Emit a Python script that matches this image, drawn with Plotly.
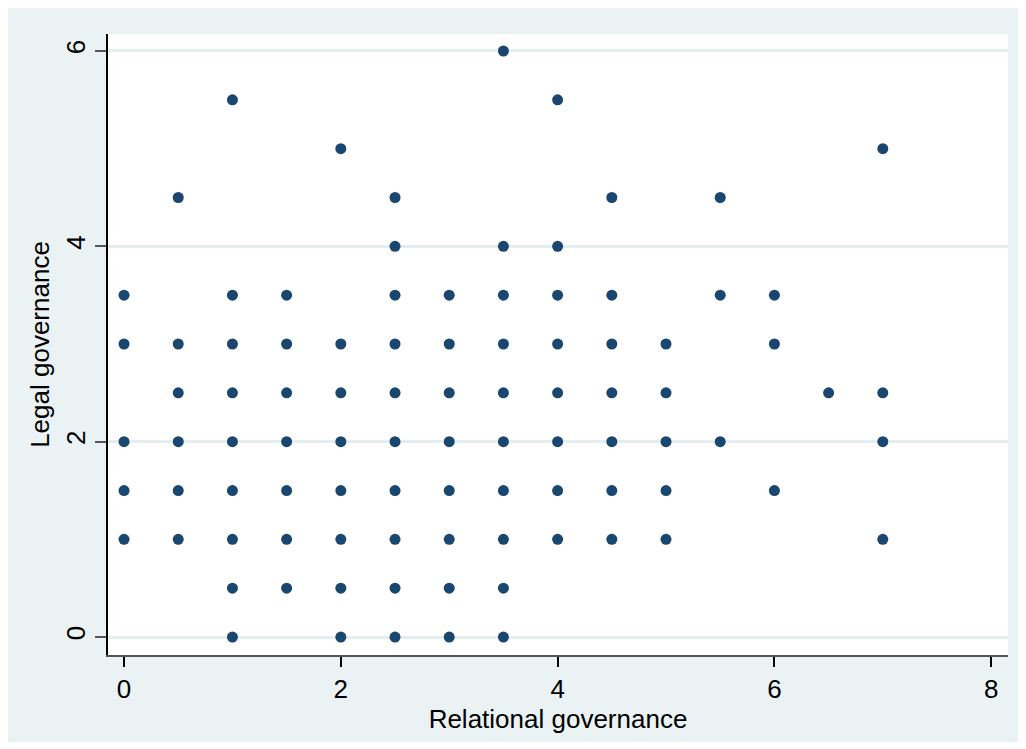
import plotly.graph_objects as go

x_levels = [0, 0.5, 1, 1.5, 2, 2.5, 3, 3.5, 4, 4.5, 5, 5.5, 6, 6.5, 7]
y_by_x = [
    [1, 1.5, 2, 3, 3.5],
    [1, 1.5, 2, 2.5, 3, 4.5],
    [0, 0.5, 1, 1.5, 2, 2.5, 3, 3.5, 5.5],
    [0.5, 1, 1.5, 2, 2.5, 3, 3.5],
    [0, 0.5, 1, 1.5, 2, 2.5, 3, 5],
    [0, 0.5, 1, 1.5, 2, 2.5, 3, 3.5, 4, 4.5],
    [0, 0.5, 1, 1.5, 2, 2.5, 3, 3.5],
    [0, 0.5, 1, 1.5, 2, 2.5, 3, 3.5, 4, 6],
    [1, 1.5, 2, 2.5, 3, 3.5, 4, 5.5],
    [1, 1.5, 2, 2.5, 3, 3.5, 4.5],
    [1, 1.5, 2, 2.5, 3],
    [2, 3.5, 4.5],
    [1.5, 3, 3.5],
    [2.5],
    [1, 2, 2.5, 5],
]
x_ticks = [0, 2, 4, 6, 8]
y_ticks = [0, 2, 4, 6]
x_title = "Relational governance"
y_title = "Legal governance"

xs, ys = [], []
for xv, yl in zip(x_levels, y_by_x):
    for yv in yl:
        xs.append(xv)
        ys.append(yv)

# page body has an 8px margin; the light-blue frame spans about (6,7)-(1019,742)
OFF = 8
W, H = 1019 - OFF, 742 - OFF
L, T = 108 - OFF, 34 - OFF
R, B = 1019 - 1008, 742 - 655

bg = "#EAF2F3"
font = "Liberation Sans, Arial, sans-serif"
fs = 26

fig = go.Figure()
fig.add_trace(go.Scatter(
    x=xs, y=ys, mode="markers",
    marker=dict(color="#1A476F", size=11, line=dict(width=0)),
    showlegend=False, cliponaxis=False,
))

fig.update_layout(
    width=W, height=H,
    margin=dict(l=L, r=R, t=T, b=B, pad=0),
    paper_bgcolor=bg, plot_bgcolor="white",
    font=dict(family=font, size=fs, color="black"),
    xaxis=dict(
        range=[-0.148, 8.155], tickvals=x_ticks, ticktext=[str(v) for v in x_ticks],
        showgrid=False, zeroline=False,
        showline=True, linecolor="#555555", linewidth=2,
        ticks="outside", ticklen=10, tickwidth=1.5, tickcolor="black",
        tickfont=dict(size=fs),
        title=dict(text=x_title, font=dict(size=fs), standoff=2),
    ),
    yaxis=dict(
        range=[-0.184, 6.174], tickvals=y_ticks, ticktext=[str(v) for v in y_ticks],
        showgrid=True, gridcolor="#E4EEF0", gridwidth=2.5, zeroline=False,
        showline=True, linecolor="black", linewidth=1.5,
        ticks="outside", ticklen=11, tickwidth=1.5, tickcolor="#555555",
        tickangle=-90, tickfont=dict(size=fs),
        title=dict(text=y_title, font=dict(size=fs), standoff=4),
    ),
)

fig.write_html("out.html")
